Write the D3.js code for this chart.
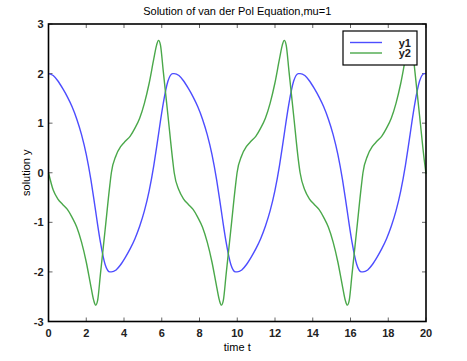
<!DOCTYPE html>
<html>
<head>
<meta charset="utf-8">
<script src="https://cdn.jsdelivr.net/npm/d3@7"></script>
<style>
  body { margin: 0; background: #fff; }
  text { font-family: "Liberation Sans", Arial, sans-serif; }
</style>
</head>
<body>
<svg width="467" height="361"></svg>
<script>
var times = [
  0, 0.25, 0.5, 0.75, 1.0, 1.25, 1.5, 1.75, 2.0, 2.25, 2.4, 2.5, 2.6, 2.75, 3.0, 3.25,
  3.33, 3.58, 3.83, 4.08, 4.33, 4.58, 4.83, 5.08, 5.33, 5.58, 5.73, 5.83, 5.93, 6.08, 6.33, 6.58,
  6.66, 6.91, 7.16, 7.41, 7.66, 7.91, 8.16, 8.41, 8.66, 8.91, 9.06, 9.16, 9.26, 9.41, 9.66, 9.91,
  9.99, 10.24, 10.49, 10.74, 10.99, 11.24, 11.49, 11.74, 11.99, 12.24, 12.39, 12.49, 12.59, 12.74, 12.99, 13.24,
  13.33, 13.58, 13.83, 14.08, 14.33, 14.58, 14.83, 15.08, 15.33, 15.58, 15.73, 15.83, 15.93, 16.08, 16.33, 16.58,
  16.66, 16.91, 17.16, 17.41, 17.66, 17.91, 18.16, 18.41, 18.66, 18.91, 19.06, 19.16, 19.26, 19.41, 19.66, 19.91,
  20.0
];

var y1 = [
  2.00, 1.96, 1.85, 1.70, 1.53, 1.33, 1.08, 0.77, 0.37, -0.15, -0.52, -0.78, -1.04, -1.40, -1.85, -2.00,
  -2.00, -1.96, -1.85, -1.70, -1.53, -1.33, -1.08, -0.77, -0.37, 0.15, 0.52, 0.78, 1.04, 1.40, 1.85, 2.00,
  2.00, 1.96, 1.85, 1.70, 1.53, 1.33, 1.08, 0.77, 0.37, -0.15, -0.52, -0.78, -1.04, -1.40, -1.85, -2.00,
  -2.00, -1.96, -1.85, -1.70, -1.53, -1.33, -1.08, -0.77, -0.37, 0.15, 0.52, 0.78, 1.04, 1.40, 1.85, 2.00,
  2.00, 1.96, 1.85, 1.70, 1.53, 1.33, 1.08, 0.77, 0.37, -0.15, -0.52, -0.78, -1.04, -1.40, -1.85, -2.00,
  -2.00, -1.96, -1.85, -1.70, -1.53, -1.33, -1.08, -0.77, -0.37, 0.15, 0.52, 0.78, 1.04, 1.40, 1.85, 2.00,
  2.00
];

var y2 = [
  0, -0.35, -0.53, -0.64, -0.74, -0.90, -1.10, -1.40, -1.80, -2.30, -2.58, -2.67, -2.58, -2.05, -1.15, -0.25,
  0, 0.35, 0.53, 0.64, 0.74, 0.90, 1.10, 1.40, 1.80, 2.30, 2.58, 2.67, 2.58, 2.05, 1.15, 0.25,
  0, -0.35, -0.53, -0.64, -0.74, -0.90, -1.10, -1.40, -1.80, -2.30, -2.58, -2.67, -2.58, -2.05, -1.15, -0.25,
  0, 0.35, 0.53, 0.64, 0.74, 0.90, 1.10, 1.40, 1.80, 2.30, 2.58, 2.67, 2.58, 2.05, 1.15, 0.25,
  0, -0.35, -0.53, -0.64, -0.74, -0.90, -1.10, -1.40, -1.80, -2.30, -2.58, -2.67, -2.58, -2.05, -1.15, -0.25,
  0, 0.35, 0.53, 0.64, 0.74, 0.90, 1.10, 1.40, 1.80, 2.30, 2.58, 2.67, 2.58, 2.05, 1.15, 0.25,
  -0.02
];

var xTicks = [0, 2, 4, 6, 8, 10, 12, 14, 16, 18, 20];
var yTicks = [-3, -2, -1, 0, 1, 2, 3];
var seriesNames = ['y1', 'y2'];
var seriesColors = ['#4d4dff', '#4aa84a'];

(function() {
    'use strict';

    var svg = d3.select('svg');
    var plotLeft = 48.5, plotRight = 426, plotTop = 24, plotBottom = 321.5;

    var x = d3.scaleLinear().domain([0, 20]).range([plotLeft, plotRight]);
    var y = d3.scaleLinear().domain([-3, 3]).range([plotBottom, plotTop]);

    // inward ticks on all four sides, matlab style
    var tickLen = 4;
    var ticks = svg.append('g').attr('stroke', '#666').attr('stroke-width', 1);
    xTicks.forEach(function(t) {
        ticks.append('line').attr('x1', x(t)).attr('x2', x(t)).attr('y1', plotBottom).attr('y2', plotBottom - tickLen);
        ticks.append('line').attr('x1', x(t)).attr('x2', x(t)).attr('y1', plotTop).attr('y2', plotTop + tickLen);
    });
    yTicks.forEach(function(v) {
        ticks.append('line').attr('x1', plotLeft).attr('x2', plotLeft + tickLen).attr('y1', y(v)).attr('y2', y(v));
        ticks.append('line').attr('x1', plotRight).attr('x2', plotRight - tickLen).attr('y1', y(v)).attr('y2', y(v));
    });

    var series = [y1, y2];
    var line = d3.line()
        .x(function(d) { return x(d[0]); })
        .y(function(d) { return y(d[1]); })
        .curve(d3.curveMonotoneX);

    svg.append('g').selectAll('path')
        .data(series)
        .enter()
        .append('path')
        .attr('d', function(vals) { return line(times.map(function(t, i) { return [t, vals[i]]; })); })
        .attr('fill', 'none')
        .attr('stroke', function(d, i) { return seriesColors[i]; })
        .attr('stroke-width', 1.4);

    // frame
    svg.append('rect')
        .attr('x', plotLeft).attr('y', plotTop)
        .attr('width', plotRight - plotLeft).attr('height', plotBottom - plotTop)
        .attr('fill', 'none').attr('stroke', '#000').attr('stroke-width', 1.6);

    svg.append('g').selectAll('text')
        .data(xTicks)
        .enter()
        .append('text')
        .attr('x', function(t) { return x(t); })
        .attr('y', plotBottom + 15)
        .attr('text-anchor', 'middle')
        .attr('font-size', 11)
        .attr('font-weight', 'bold')
        .attr('fill', '#222')
        .text(function(t) { return t; });

    svg.append('g').selectAll('text')
        .data(yTicks)
        .enter()
        .append('text')
        .attr('x', plotLeft - 5)
        .attr('y', function(v) { return y(v) + 4; })
        .attr('text-anchor', 'end')
        .attr('font-size', 11)
        .attr('font-weight', 'bold')
        .attr('fill', '#222')
        .text(function(v) { return v; });

    svg.append('text')
        .attr('x', (plotLeft + plotRight) / 2).attr('y', 15)
        .attr('text-anchor', 'middle').attr('font-size', 11)
        .text('Solution of van der Pol Equation,mu=1');

    svg.append('text')
        .attr('x', (plotLeft + plotRight) / 2).attr('y', 351)
        .attr('text-anchor', 'middle').attr('font-size', 11)
        .text('time t');

    svg.append('text')
        .attr('transform', 'translate(30,' + ((plotTop + plotBottom) / 2) + ') rotate(-90)')
        .attr('text-anchor', 'middle').attr('font-size', 11)
        .text('solution y');

    // legend
    var legend = svg.append('g');
    legend.append('rect')
        .attr('x', 343).attr('y', 31).attr('width', 74).attr('height', 34)
        .attr('fill', '#fff').attr('stroke', '#000').attr('stroke-width', 1.2);
    seriesNames.forEach(function(name, i) {
        var ly = 42.5 + i * 10.5;
        legend.append('line')
            .attr('x1', 350).attr('x2', 382).attr('y1', ly).attr('y2', ly)
            .attr('stroke', seriesColors[i]).attr('stroke-width', 1.4);
        legend.append('text')
            .attr('x', 411).attr('y', ly + 4)
            .attr('text-anchor', 'end').attr('font-size', 11).attr('font-weight', 'bold')
            .attr('fill', '#222')
            .text(name);
    });
})();
</script>
</body>
</html>
